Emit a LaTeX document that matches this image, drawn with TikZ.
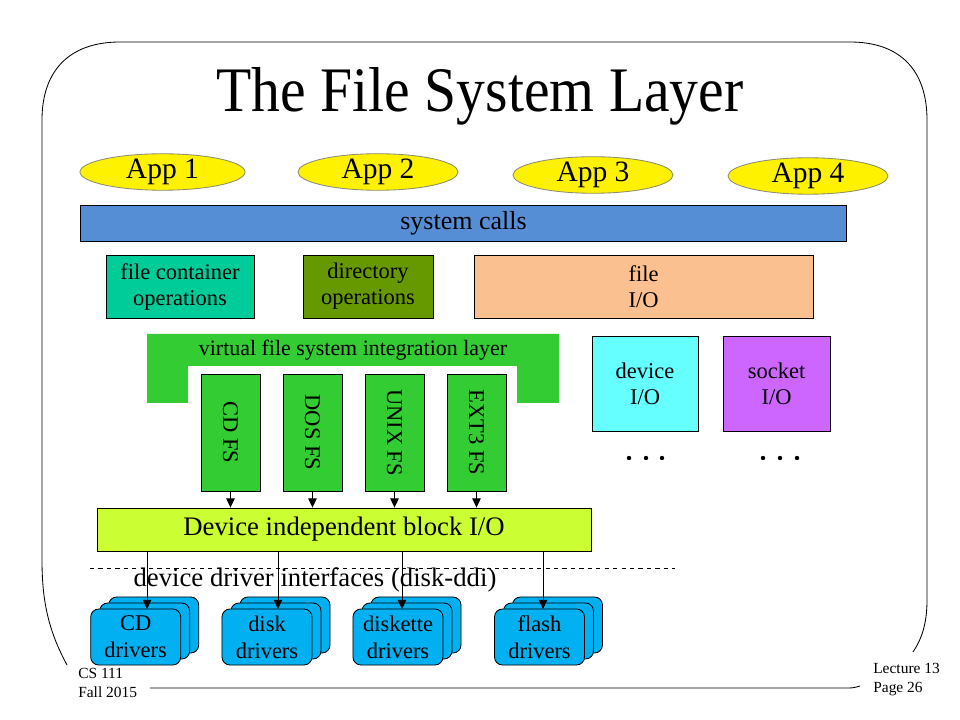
\documentclass[tikz,border=0pt]{standalone}
\usepackage{fontspec}
\usepackage{graphicx}
\setmainfont{Liberation Serif}
\usetikzlibrary{shapes.geometric,arrows.meta}
\definecolor{appedge}{RGB}{140,140,110}
\definecolor{callblue}{RGB}{85,142,213}
\definecolor{contgreen}{RGB}{0,204,153}
\definecolor{dirgreen}{RGB}{102,153,0}
\definecolor{fileorange}{RGB}{250,192,144}
\definecolor{vfsgreen}{RGB}{51,204,51}
\definecolor{blklime}{RGB}{204,255,51}
\definecolor{devcyan}{RGB}{102,255,255}
\definecolor{sockviolet}{RGB}{204,102,255}
\definecolor{drvblue}{RGB}{0,176,240}
\begin{document}
\begin{tikzpicture}[x=0.025cm,y=-0.025cm,
  box/.style={draw,line width=0.6pt,rectangle,inner sep=0pt,align=center,
    font=\fontsize{16}{18.5}\selectfont},
  app/.style={ellipse,draw=appedge,fill=yellow,line width=0.6pt,inner sep=0pt,
    minimum width=4cm,minimum height=0.9cm,font=\fontsize{21}{24}\selectfont},
  fsbox/.style={box,fill=vfsgreen,minimum width=1.475cm,minimum height=2.925cm},
  driver/.style={box,rounded corners=0.2cm,fill=drvblue,minimum width=2.25cm,
    minimum height=1.4cm,font=\fontsize{16}{19}\selectfont},
  link/.style={line width=0.6pt,-{Triangle[length=6.5pt,width=6pt]}},
  foot/.style={anchor=west,inner sep=0pt,font=\fontsize{11}{13}\selectfont}]
\useasboundingbox (0,0) rectangle (960,720);

% slide frame
\draw[line width=0.6pt] (67,665) .. controls (48,630) and (42,600) .. (42,560)
  -- (42,120) .. controls (42,70) and (70,42) .. (120,42) -- (850,42)
  .. controls (900,42) and (927,70) .. (927,120) -- (927,600)
  .. controls (927,625) and (921,640) .. (913,652);
\node[foot] (course) at (78,673) {CS 111};
\node[foot] (term) at (78,692) {Fall 2015};
\node[foot] (lect) at (873,668) {Lecture 13};
\node[foot] (page) at (873,689) {Page 26};
\draw[line width=0.6pt] (150,688) -- (845,688) .. controls (853,688) .. (860,686);

\node (title) at (480,96) {\scalebox{1}[1.1]{\fontsize{41}{46}\selectfont The File System Layer}};

\node[app,minimum width=4.125cm] (app1) at (162.5,172) {App 1};
\node[app] (app2) at (378,172) {App 2};
\node[app] (app3) at (593,175) {App 3};
\node[app] (app4) at (808,176) {App 4};

\node[box,fill=callblue,minimum width=19.125cm,minimum height=0.9cm,
  font=\fontsize{18.5}{21}\selectfont] (calls) at (463.5,223) {system calls};

\node[box,fill=contgreen,minimum width=3.7cm,minimum height=1.575cm] (cont) at (180,286.5) {file container\\operations};
\node[box,fill=dirgreen,minimum width=3.25cm,minimum height=1.575cm] (dir) at (368,286.5) {directory\\operations};
\node[box,fill=fileorange,minimum width=8.475cm,minimum height=1.575cm] (fileio) at (643.5,286.5) {file\\I/O};

% integration layer
\fill[vfsgreen] (147,334) -- (559,334) -- (559,403) -- (517,403) -- (517,366)
  -- (188,366) -- (188,403) -- (147,403) -- cycle;
\node[font=\fontsize{15.6}{18}\selectfont] (vfs) at (353,350) {virtual file system integration layer};

\node[fsbox] (cdfs) at (230.5,432.5) {\rotatebox{-90}{CD FS}};
\node[fsbox] (dosfs) at (312.5,432.5) {\rotatebox{-90}{DOS FS}};
\node[fsbox] (unixfs) at (394.5,432.5) {\rotatebox{-90}{UNIX FS}};
\node[fsbox] (extfs) at (476.5,432.5) {\rotatebox{-90}{EXT3 FS}};

\node[box,fill=devcyan,minimum width=2.65cm,minimum height=2.375cm] (devio) at (645,383.5) {device\\I/O};
\node[box,fill=sockviolet,minimum width=2.675cm,minimum height=2.375cm] (sockio) at (776.5,383.5) {socket\\I/O};
\foreach \x in {629,646,662,763,780,797}
  \fill (\x,458) circle (2.2);

\node[box,fill=blklime,minimum width=12.35cm,minimum height=1.075cm,
  font=\fontsize{19}{22}\selectfont] (blk) at (344,529.5) {Device independent block I/O};
\foreach \fs in {cdfs,dosfs,unixfs,extfs}
  \draw[link] (\fs.south) -- (\fs.south |- blk.north);

\draw[line width=0.6pt,dashed] (90,568) -- (675,568);
\node[font=\fontsize{19}{22}\selectfont] (ddi) at (315,580) {device driver interfaces (disk-ddi)};

% driver stacks
\foreach \x in {135.7,267,398,539.5} {
  \node[driver] at (\x+18,625) {};
  \node[driver] at (\x+9,631) {};
}
\node[driver] (cd) at (135.7,637) {CD\\drivers};
\node[driver] (disk) at (267,637) {disk\\drivers};
\node[driver] (floppy) at (398,637) {diskette\\drivers};
\node[driver] (flash) at (539.5,637) {flash\\drivers};
\coordinate (cdin) at (147,609);
\coordinate (diskin) at (278,609);
\coordinate (floppyin) at (402,609);
\coordinate (flashin) at (543,609);
\foreach \d in {cdin,diskin,floppyin,flashin}
  \draw[link] (blk.south -| \d) -- (\d);
\end{tikzpicture}
\end{document}
